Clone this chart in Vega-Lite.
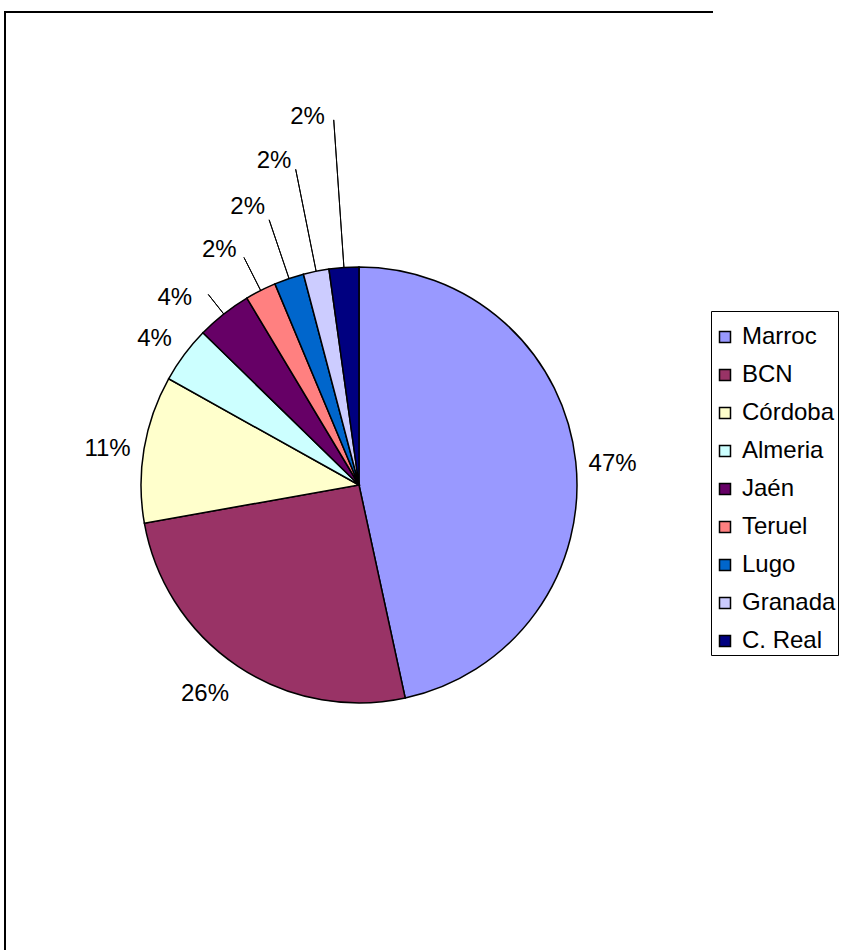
{
  "$schema": "https://vega.github.io/schema/vega-lite/v6.json",
  "width": 708,
  "height": 946,
  "padding": {"left": 5, "top": 12, "right": 132, "bottom": 0},
  "autosize": {"type": "none"},
  "background": "white",
  "view": {"stroke": "black", "strokeWidth": 2, "strokeDash": [708, 1654, 946, 5000], "fill": "white"},
  "config": {
    "font": "Liberation Sans"
  },
  "data": {
    "values": [
      {"region": "Marroc", "share": 0.466, "order": 1},
      {"region": "BCN", "share": 0.256, "order": 2},
      {"region": "Córdoba", "share": 0.109, "order": 3},
      {"region": "Almeria", "share": 0.042, "order": 4},
      {"region": "Jaén", "share": 0.041, "order": 5},
      {"region": "Teruel", "share": 0.023, "order": 6},
      {"region": "Lugo", "share": 0.022, "order": 7},
      {"region": "Granada", "share": 0.019, "order": 8},
      {"region": "C. Real", "share": 0.022, "order": 9}
    ]
  },
  "encoding": {
    "theta": {"field": "share", "type": "quantitative", "stack": true},
    "order": {"field": "order", "type": "quantitative", "sort": "ascending"}
  },
  "layer": [
    {
      "mark": {"type": "arc", "outerRadius": 218, "stroke": "black", "strokeWidth": 1.5},
      "encoding": {
        "color": {
          "field": "region",
          "type": "nominal",
          "scale": {
            "domain": ["Marroc", "BCN", "Córdoba", "Almeria", "Jaén", "Teruel", "Lugo", "Granada", "C. Real"],
            "range": ["#9999FF", "#993366", "#FFFFCC", "#CCFFFF", "#660066", "#FF8080", "#0066CC", "#CCCCFF", "#000080"]
          },
          "legend": {
            "title": " ",
            "titleFontSize": 4,
            "titlePadding": 8,
            "orient": "none",
            "legendX": 706,
            "legendY": 299,
            "strokeColor": "black",
            "fillColor": "white",
            "padding": 2,
            "rowPadding": 14,
            "labelFontSize": 24,
            "labelFont": "Liberation Sans",
            "labelColor": "black",
            "labelLimit": 300,
            "labelOffset": 5,
            "symbolType": "square",
            "symbolSize": 121,
            "symbolStrokeColor": "black",
            "symbolStrokeWidth": 1.5,
            "symbolOpacity": 1
          }
        }
      }
    },
    {
      "mark": {"type": "text", "radius": 255, "dy": 6, "font": "Liberation Sans", "fontSize": 24, "color": "black"},
      "encoding": {
        "text": {
          "condition": {"test": "datum.order === 2 || datum.order >= 5", "value": ""},
          "field": "share",
          "type": "quantitative",
          "format": ".0%"
        }
      }
    },
    {
      "mark": {"type": "text", "radius": 255, "dx": -12, "dy": -3, "font": "Liberation Sans", "fontSize": 24, "color": "black"},
      "encoding": {
        "text": {"condition": {"test": "datum.order !== 2", "value": ""}, "field": "share", "type": "quantitative", "format": ".0%"}
      }
    },
    {
      "mark": {"type": "text", "radius": 239, "dx": -36, "font": "Liberation Sans", "fontSize": 24, "color": "black"},
      "encoding": {
        "text": {"condition": {"test": "datum.order !== 5", "value": ""}, "field": "share", "type": "quantitative", "format": ".0%"}
      }
    },
    {
      "mark": {"type": "arc", "innerRadius": 218, "outerRadius": 243, "padAngle": 2, "stroke": "black", "strokeWidth": 1, "fillOpacity": 0},
      "encoding": {
        "strokeOpacity": {"condition": {"test": "datum.order === 5", "value": 1}, "value": 0}
      }
    },
    {
      "mark": {"type": "text", "radius": 263, "dx": -21, "font": "Liberation Sans", "fontSize": 24, "color": "black"},
      "encoding": {
        "text": {"condition": {"test": "datum.order !== 6", "value": ""}, "field": "share", "type": "quantitative", "format": ".0%"}
      }
    },
    {
      "mark": {"type": "arc", "innerRadius": 218, "outerRadius": 255, "padAngle": 2, "stroke": "black", "strokeWidth": 1, "fillOpacity": 0},
      "encoding": {
        "strokeOpacity": {"condition": {"test": "datum.order === 6", "value": 1}, "value": 0}
      }
    },
    {
      "mark": {"type": "text", "radius": 294, "dx": -17, "font": "Liberation Sans", "fontSize": 24, "color": "black"},
      "encoding": {
        "text": {"condition": {"test": "datum.order !== 7", "value": ""}, "field": "share", "type": "quantitative", "format": ".0%"}
      }
    },
    {
      "mark": {"type": "arc", "innerRadius": 218, "outerRadius": 280, "padAngle": 2, "stroke": "black", "strokeWidth": 1, "fillOpacity": 0},
      "encoding": {
        "strokeOpacity": {"condition": {"test": "datum.order === 7", "value": 1}, "value": 0}
      }
    },
    {
      "mark": {"type": "text", "radius": 330, "dx": -20, "font": "Liberation Sans", "fontSize": 24, "color": "black"},
      "encoding": {
        "text": {"condition": {"test": "datum.order !== 8", "value": ""}, "field": "share", "type": "quantitative", "format": ".0%"}
      }
    },
    {
      "mark": {"type": "arc", "innerRadius": 218, "outerRadius": 322, "padAngle": 2, "stroke": "black", "strokeWidth": 1, "fillOpacity": 0},
      "encoding": {
        "strokeOpacity": {"condition": {"test": "datum.order === 8", "value": 1}, "value": 0}
      }
    },
    {
      "mark": {"type": "text", "radius": 369, "dx": -26, "font": "Liberation Sans", "fontSize": 24, "color": "black"},
      "encoding": {
        "text": {"condition": {"test": "datum.order !== 9", "value": ""}, "field": "share", "type": "quantitative", "format": ".0%"}
      }
    },
    {
      "mark": {"type": "arc", "innerRadius": 218, "outerRadius": 366, "padAngle": 2, "stroke": "black", "strokeWidth": 1, "fillOpacity": 0},
      "encoding": {
        "strokeOpacity": {"condition": {"test": "datum.order === 9", "value": 1}, "value": 0}
      }
    }
  ]
}
